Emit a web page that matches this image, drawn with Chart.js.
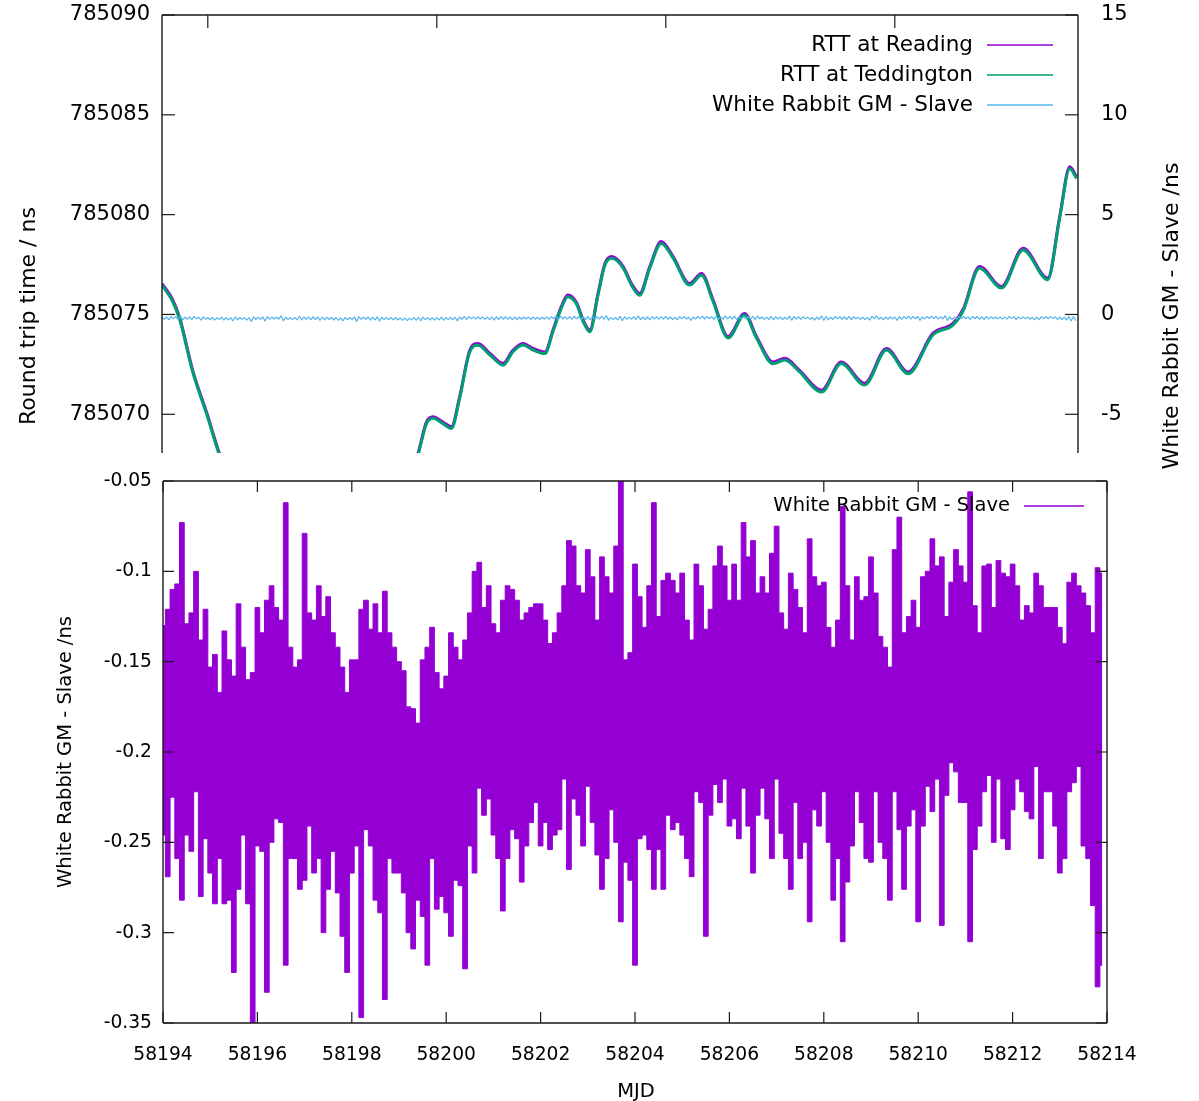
<!DOCTYPE html>
<html>
<head>
<meta charset="utf-8">
<title>RTT and White Rabbit GM - Slave</title>
<script src="https://cdn.jsdelivr.net/npm/chart.js@4.4.0/dist/chart.umd.min.js"></script>
<style>
  html, body { margin: 0; padding: 0; background: #fff; }
  #wrap { position: relative; width: 1199px; height: 1101px; }
  #topBox { position: absolute; left: 0; top: 0; width: 1199px; height: 480px; }
  #bottomBox { position: absolute; left: 0; top: 453px; width: 1199px; height: 648px; }
</style>
</head>
<body>
<div id="wrap">
  <div id="topBox"><canvas id="rttChart"></canvas></div>
  <div id="bottomBox"><canvas id="wrChart"></canvas></div>
</div>
<script>
/* ================= DATA ================= */
// round trip time curves (MJD, ns)
const rttMjd = [58194.00, 58194.23, 58194.39, 58194.67, 58194.98, 58195.26, 58195.80, 58196.50, 58197.30, 58198.10,
  58198.80, 58199.30, 58199.59, 58199.77, 58199.92, 58200.14, 58200.32, 58200.50, 58200.72, 58200.90,
  58201.16, 58201.45, 58201.66, 58201.88, 58202.10, 58202.36, 58202.54, 58202.72, 58202.86, 58203.05,
  58203.19, 58203.34, 58203.52, 58203.67, 58203.82, 58204.07, 58204.25, 58204.43, 58204.65, 58204.90,
  58205.16, 58205.52, 58205.78, 58206.03, 58206.36, 58206.72, 58206.98, 58207.34, 58207.60, 58207.92,
  58208.40, 58208.83, 58209.34, 58209.82, 58210.29, 58210.83, 58211.27, 58211.49, 58211.85, 58212.33,
  58212.80, 58213.34, 58213.60, 58213.82, 58213.97];

const rttReading = [785076.55, 785075.75, 785074.80, 785072.20, 785070.05, 785068.00, 785065.00, 785063.20, 785062.40, 785062.90,
  785064.60, 785066.60, 785068.05, 785069.60, 785069.88, 785069.60, 785069.38, 785070.90, 785073.20, 785073.55,
  785073.05, 785072.55, 785073.20, 785073.55, 785073.30, 785073.12, 785074.25, 785075.40, 785075.98, 785075.60,
  785074.75, 785074.22, 785076.05, 785077.55, 785077.90, 785077.40, 785076.55, 785076.05, 785077.40, 785078.65,
  785077.90, 785076.55, 785077.05, 785075.75, 785073.90, 785075.05, 785073.90, 785072.62, 785072.80, 785072.20,
  785071.20, 785072.62, 785071.55, 785073.30, 785072.12, 785074.05, 785074.55, 785075.25, 785077.40, 785076.40,
  785078.32, 785076.82, 785079.90, 785082.40, 785081.90];

const rttTeddington = [785076.47, 785075.66, 785074.72, 785072.12, 785069.97, 785067.92, 785064.93, 785063.12, 785062.33, 785062.82,
  785064.52, 785066.52, 785067.97, 785069.51, 785069.80, 785069.52, 785069.29, 785070.82, 785073.12, 785073.46,
  785072.97, 785072.46, 785073.12, 785073.47, 785073.22, 785073.04, 785074.17, 785075.32, 785075.89, 785075.52,
  785074.67, 785074.13, 785075.97, 785077.47, 785077.81, 785077.32, 785076.47, 785075.96, 785077.32, 785078.56,
  785077.82, 785076.47, 785076.96, 785075.67, 785073.82, 785074.97, 785073.82, 785072.53, 785072.72, 785072.12,
  785071.11, 785072.54, 785071.46, 785073.22, 785072.03, 785073.97, 785074.47, 785075.17, 785077.31, 785076.32,
  785078.23, 785076.74, 785079.82, 785082.30, 785081.81];

// White Rabbit GM - Slave (ns): highest and lowest excursion in each 0.1 day, from MJD 58194.0
const wrStart = 58194.0;
const wrStep = 0.1;
const wrUpper = [
  -0.130, -0.121, -0.110, -0.107, -0.073, -0.129, -0.123, -0.100, -0.138, -0.121,
  -0.153, -0.146, -0.167, -0.133, -0.149, -0.158, -0.118, -0.142, -0.160, -0.156,
  -0.120, -0.134, -0.116, -0.108, -0.120, -0.127, -0.062, -0.142, -0.153, -0.149,
  -0.079, -0.123, -0.127, -0.108, -0.125, -0.114, -0.134, -0.142, -0.153, -0.167,
  -0.149, -0.149, -0.121, -0.116, -0.132, -0.118, -0.134, -0.111, -0.134, -0.142,
  -0.150, -0.155, -0.175, -0.176, -0.184, -0.149, -0.142, -0.131, -0.156, -0.165,
  -0.158, -0.134, -0.142, -0.149, -0.138, -0.123, -0.100, -0.095, -0.120, -0.108,
  -0.129, -0.134, -0.116, -0.108, -0.110, -0.116, -0.127, -0.123, -0.120, -0.118,
  -0.118, -0.127, -0.140, -0.134, -0.123, -0.108, -0.083, -0.086, -0.108, -0.112,
  -0.088, -0.103, -0.127, -0.092, -0.103, -0.112, -0.086, -0.050, -0.149, -0.145,
  -0.096, -0.114, -0.131, -0.108, -0.062, -0.125, -0.105, -0.101, -0.105, -0.112,
  -0.101, -0.127, -0.138, -0.096, -0.108, -0.132, -0.121, -0.097, -0.086, -0.097,
  -0.116, -0.096, -0.116, -0.073, -0.092, -0.083, -0.112, -0.103, -0.112, -0.090,
  -0.075, -0.123, -0.132, -0.101, -0.110, -0.120, -0.134, -0.082, -0.103, -0.108,
  -0.106, -0.131, -0.142, -0.127, -0.064, -0.108, -0.138, -0.103, -0.116, -0.114,
  -0.092, -0.112, -0.136, -0.142, -0.153, -0.088, -0.070, -0.134, -0.125, -0.116,
  -0.131, -0.103, -0.100, -0.082, -0.097, -0.092, -0.125, -0.106, -0.088, -0.097,
  -0.106, -0.056, -0.119, -0.134, -0.097, -0.096, -0.120, -0.094, -0.101, -0.103,
  -0.096, -0.108, -0.127, -0.119, -0.123, -0.101, -0.108, -0.120, -0.120, -0.120,
  -0.131, -0.140, -0.106, -0.101, -0.108, -0.112, -0.119, -0.134, -0.098, -0.101];
const wrLower = [
  -0.246, -0.269, -0.225, -0.259, -0.282, -0.246, -0.255, -0.222, -0.280, -0.248,
  -0.267, -0.284, -0.259, -0.284, -0.282, -0.322, -0.276, -0.246, -0.284, -0.350,
  -0.252, -0.255, -0.333, -0.250, -0.237, -0.239, -0.318, -0.259, -0.259, -0.276,
  -0.271, -0.241, -0.267, -0.259, -0.300, -0.276, -0.255, -0.278, -0.302, -0.322,
  -0.267, -0.252, -0.347, -0.243, -0.252, -0.282, -0.289, -0.337, -0.259, -0.267,
  -0.267, -0.278, -0.300, -0.309, -0.282, -0.291, -0.318, -0.259, -0.287, -0.280,
  -0.289, -0.302, -0.271, -0.274, -0.320, -0.252, -0.267, -0.220, -0.235, -0.226,
  -0.246, -0.259, -0.288, -0.259, -0.243, -0.248, -0.272, -0.252, -0.239, -0.228,
  -0.252, -0.239, -0.254, -0.246, -0.243, -0.215, -0.265, -0.226, -0.235, -0.252,
  -0.219, -0.239, -0.257, -0.276, -0.259, -0.232, -0.250, -0.294, -0.261, -0.271,
  -0.318, -0.248, -0.246, -0.254, -0.276, -0.254, -0.276, -0.235, -0.243, -0.239,
  -0.246, -0.259, -0.269, -0.222, -0.228, -0.302, -0.235, -0.218, -0.228, -0.215,
  -0.241, -0.237, -0.248, -0.220, -0.241, -0.267, -0.235, -0.220, -0.237, -0.259,
  -0.215, -0.245, -0.259, -0.276, -0.228, -0.259, -0.250, -0.294, -0.232, -0.241,
  -0.222, -0.250, -0.282, -0.259, -0.305, -0.272, -0.252, -0.222, -0.239, -0.259,
  -0.261, -0.222, -0.250, -0.259, -0.282, -0.222, -0.243, -0.276, -0.241, -0.232,
  -0.294, -0.241, -0.219, -0.233, -0.215, -0.296, -0.224, -0.206, -0.211, -0.228,
  -0.228, -0.305, -0.254, -0.241, -0.222, -0.213, -0.250, -0.215, -0.248, -0.254,
  -0.232, -0.215, -0.222, -0.233, -0.237, -0.208, -0.259, -0.222, -0.222, -0.241,
  -0.267, -0.259, -0.222, -0.217, -0.208, -0.252, -0.259, -0.285, -0.330, -0.318];

// axis ticks
const topMjdTicks = [58195, 58200, 58205, 58210];
const rttTicks = [785070, 785075, 785080, 785085, 785090];
const wrTopTicks = [-5, 0, 5, 10, 15];
const mjdTicks = [58194, 58196, 58198, 58200, 58202, 58204, 58206, 58208, 58210, 58212, 58214];
const wrTicks = [-0.35, -0.3, -0.25, -0.2, -0.15, -0.1, -0.05];

/* ================= HELPERS ================= */
const PURPLE = '#9400d3';
const GREEN = '#009e73';
const SKY = '#56b4e9';
const INK = '#1a1a1a';
const FONT = "'DejaVu Sans', sans-serif";

Chart.defaults.font.family = FONT;
Chart.defaults.color = '#000';

function toPoints(xs, ys) {
    return xs.map((x, i) => ({ x: x, y: ys[i] }));
}

function wrPoints(values) {
    return values.map((v, i) => ({ x: wrStart + i * wrStep, y: v }));
}

// thin trace for the top panel: top then bottom of each bin
function wrTrace() {
    const pts = [];
    wrUpper.forEach((hi, i) => {
        const t = wrStart + i * wrStep;
        pts.push({ x: t, y: hi });
        pts.push({ x: t + wrStep / 2, y: wrLower[i] });
    });
    return pts;
}

function fixedTicks(values) {
    return scale => { scale.ticks = values.map(v => ({ value: v })); };
}

// gnuplot style border and inward tick marks
const framePlugin = {
    id: 'frame',
    afterDatasetsDraw(chart, args, opts) {
        const { ctx, chartArea: a } = chart;
        const len = opts.tickLen;
        ctx.save();
        ctx.strokeStyle = INK;
        ctx.lineWidth = 1.4;
        ctx.beginPath();
        if (opts.sides.includes('top')) { ctx.moveTo(a.left, a.top); ctx.lineTo(a.right, a.top); }
        if (opts.sides.includes('bottom')) { ctx.moveTo(a.left, a.bottom); ctx.lineTo(a.right, a.bottom); }
        if (opts.sides.includes('left')) { ctx.moveTo(a.left, a.top); ctx.lineTo(a.left, a.bottom); }
        if (opts.sides.includes('right')) { ctx.moveTo(a.right, a.top); ctx.lineTo(a.right, a.bottom); }
        ctx.stroke();

        ctx.lineWidth = 1.2;
        opts.marks.forEach(m => {
            const scale = chart.scales[m.scale];
            m.values.forEach(v => {
                const p = scale.getPixelForValue(v);
                ctx.beginPath();
                m.edges.forEach(edge => {
                    if (edge === 'top') { ctx.moveTo(p, a.top); ctx.lineTo(p, a.top + len); }
                    if (edge === 'bottom') { ctx.moveTo(p, a.bottom); ctx.lineTo(p, a.bottom - len); }
                    if (edge === 'left') { ctx.moveTo(a.left, p); ctx.lineTo(a.left + len, p); }
                    if (edge === 'right') { ctx.moveTo(a.right, p); ctx.lineTo(a.right - len, p); }
                });
                ctx.stroke();
            });
        });
        ctx.restore();
    }
};

// key: right aligned text with the line sample after it
const keyPlugin = {
    id: 'key',
    afterDraw(chart, args, opts) {
        const ctx = chart.ctx;
        ctx.save();
        ctx.font = opts.font;
        ctx.textAlign = 'right';
        ctx.textBaseline = 'middle';
        chart.data.datasets.filter(ds => ds.label).forEach((ds, i) => {
            const y = opts.y + i * opts.rowGap;
            ctx.fillStyle = '#000';
            ctx.fillText(ds.label, opts.textRight, y);
            ctx.strokeStyle = ds.borderColor;
            ctx.lineWidth = 1.6;
            ctx.beginPath();
            ctx.moveTo(opts.lineFrom, y);
            ctx.lineTo(opts.lineTo, y);
            ctx.stroke();
        });
        ctx.restore();
    }
};

const titlePlugin = {
    id: 'titles',
    afterDraw(chart, args, opts) {
        const ctx = chart.ctx;
        opts.items.forEach(t => {
            ctx.save();
            ctx.font = opts.font;
            ctx.fillStyle = '#000';
            ctx.textAlign = 'center';
            ctx.textBaseline = 'middle';
            ctx.translate(t.x, t.y);
            ctx.rotate(t.rot);
            ctx.fillText(t.text, 0, 0);
            ctx.restore();
        });
    }
};

// keep the plot box exactly where the layout padding puts it
function noEdgePadding(width) {
    return s => {
        s.width = width;
        s.paddingTop = 0;
        s.paddingBottom = 0;
    };
}

/* ================= TOP PANEL: RTT ================= */
function renderRttChart() {
    const ctx = document.getElementById('rttChart');
    new Chart(ctx, {
        type: 'line',
        data: {
            datasets: [{
                label: 'RTT at Reading',
                data: toPoints(rttMjd, rttReading),
                borderColor: PURPLE,
                borderWidth: 3,
                cubicInterpolationMode: 'monotone',
                yAxisID: 'y',
                clip: 0,
                order: 3
            }, {
                label: 'RTT at Teddington',
                data: toPoints(rttMjd, rttTeddington),
                borderColor: GREEN,
                borderWidth: 3,
                cubicInterpolationMode: 'monotone',
                yAxisID: 'y',
                clip: 0,
                order: 2
            }, {
                label: 'White Rabbit GM - Slave',
                data: wrTrace(),
                borderColor: SKY,
                borderWidth: 1.2,
                borderJoinStyle: 'bevel',
                yAxisID: 'y2',
                order: 1
            }]
        },
        options: {
            responsive: true,
            maintainAspectRatio: false,
            animation: false,
            events: [],
            elements: { point: { radius: 0 } },
            // the panel is cut off at y = 453 by the lower plot; the extra room holds the right title
            layout: { padding: { top: 15, left: 0, right: 0, bottom: 27 } },
            plugins: {
                legend: { display: false },
                tooltip: { enabled: false },
                frame: {
                    tickLen: 13,
                    sides: ['top', 'left', 'right'],
                    marks: [
                        { scale: 'x', values: topMjdTicks, edges: ['top'] },
                        { scale: 'y', values: rttTicks, edges: ['left'] },
                        { scale: 'y2', values: wrTopTicks, edges: ['right'] }
                    ]
                },
                key: { font: "21.5px " + FONT, y: 45, rowGap: 30, textRight: 973, lineFrom: 987, lineTo: 1053 },
                titles: {
                    font: "22px " + FONT,
                    items: [
                        { text: 'Round trip time / ns', x: 29, y: 316, rot: -Math.PI / 2 },
                        { text: 'White Rabbit GM - Slave /ns', x: 1172, y: 316, rot: -Math.PI / 2 }
                    ]
                }
            },
            scales: {
                x: { type: 'linear', display: false, min: 58194, max: 58214 },
                y: {
                    min: 785068.06,
                    max: 785090,
                    afterBuildTicks: fixedTicks(rttTicks),
                    afterFit: noEdgePadding(162),
                    grid: { display: false, drawTicks: false },
                    border: { display: false },
                    ticks: { padding: 12, font: { size: 21 }, callback: v => String(v) }
                },
                y2: {
                    position: 'right',
                    min: -6.94,
                    max: 15,
                    afterBuildTicks: fixedTicks(wrTopTicks),
                    afterFit: noEdgePadding(121),
                    grid: { display: false, drawTicks: false },
                    border: { display: false },
                    ticks: { padding: 23, font: { size: 21 }, callback: v => String(v) }
                }
            }
        },
        plugins: [framePlugin, keyPlugin, titlePlugin]
    });
}

/* ================= BOTTOM PANEL: WR GM - SLAVE ================= */
function renderWrChart() {
    const ctx = document.getElementById('wrChart');
    new Chart(ctx, {
        type: 'line',
        data: {
            datasets: [{
                label: 'White Rabbit GM - Slave',
                data: wrPoints(wrUpper),
                stepped: 'middle',
                borderColor: PURPLE,
                borderWidth: 1,
                backgroundColor: PURPLE,
                fill: '+1'
            }, {
                label: '',
                data: wrPoints(wrLower),
                stepped: 'middle',
                borderColor: PURPLE,
                borderWidth: 1,
                fill: false
            }]
        },
        options: {
            responsive: true,
            maintainAspectRatio: false,
            animation: false,
            events: [],
            elements: { point: { radius: 0 } },
            layout: { padding: { top: 28, left: 0, right: 92, bottom: 0 } },
            plugins: {
                legend: { display: false },
                tooltip: { enabled: false },
                filler: { propagate: false },
                frame: {
                    tickLen: 11,
                    sides: ['top', 'bottom', 'left', 'right'],
                    marks: [
                        { scale: 'x', values: mjdTicks, edges: ['top', 'bottom'] },
                        { scale: 'y', values: wrTicks, edges: ['left', 'right'] }
                    ]
                },
                key: { font: "19.5px " + FONT, y: 53, rowGap: 27, textRight: 1010, lineFrom: 1024, lineTo: 1084 },
                titles: {
                    font: "19.5px " + FONT,
                    items: [
                        { text: 'White Rabbit GM - Slave /ns', x: 66, y: 299, rot: -Math.PI / 2 },
                        { text: 'MJD', x: 636, y: 639, rot: 0 }
                    ]
                }
            },
            scales: {
                x: {
                    type: 'linear',
                    min: 58194,
                    max: 58214,
                    afterBuildTicks: fixedTicks(mjdTicks),
                    afterFit: s => { s.height = 78; },
                    grid: { display: false, drawTicks: false },
                    border: { display: false },
                    ticks: { padding: 21, font: { size: 18.7 }, maxRotation: 0, callback: v => String(v) }
                },
                y: {
                    min: -0.35,
                    max: -0.05,
                    afterBuildTicks: fixedTicks(wrTicks),
                    afterFit: noEdgePadding(163),
                    grid: { display: false, drawTicks: false },
                    border: { display: false },
                    ticks: { padding: 11, font: { size: 18.7 }, callback: v => String(v) }
                }
            }
        },
        plugins: [framePlugin, keyPlugin, titlePlugin]
    });
}

renderRttChart();
renderWrChart();
</script>
</body>
</html>
